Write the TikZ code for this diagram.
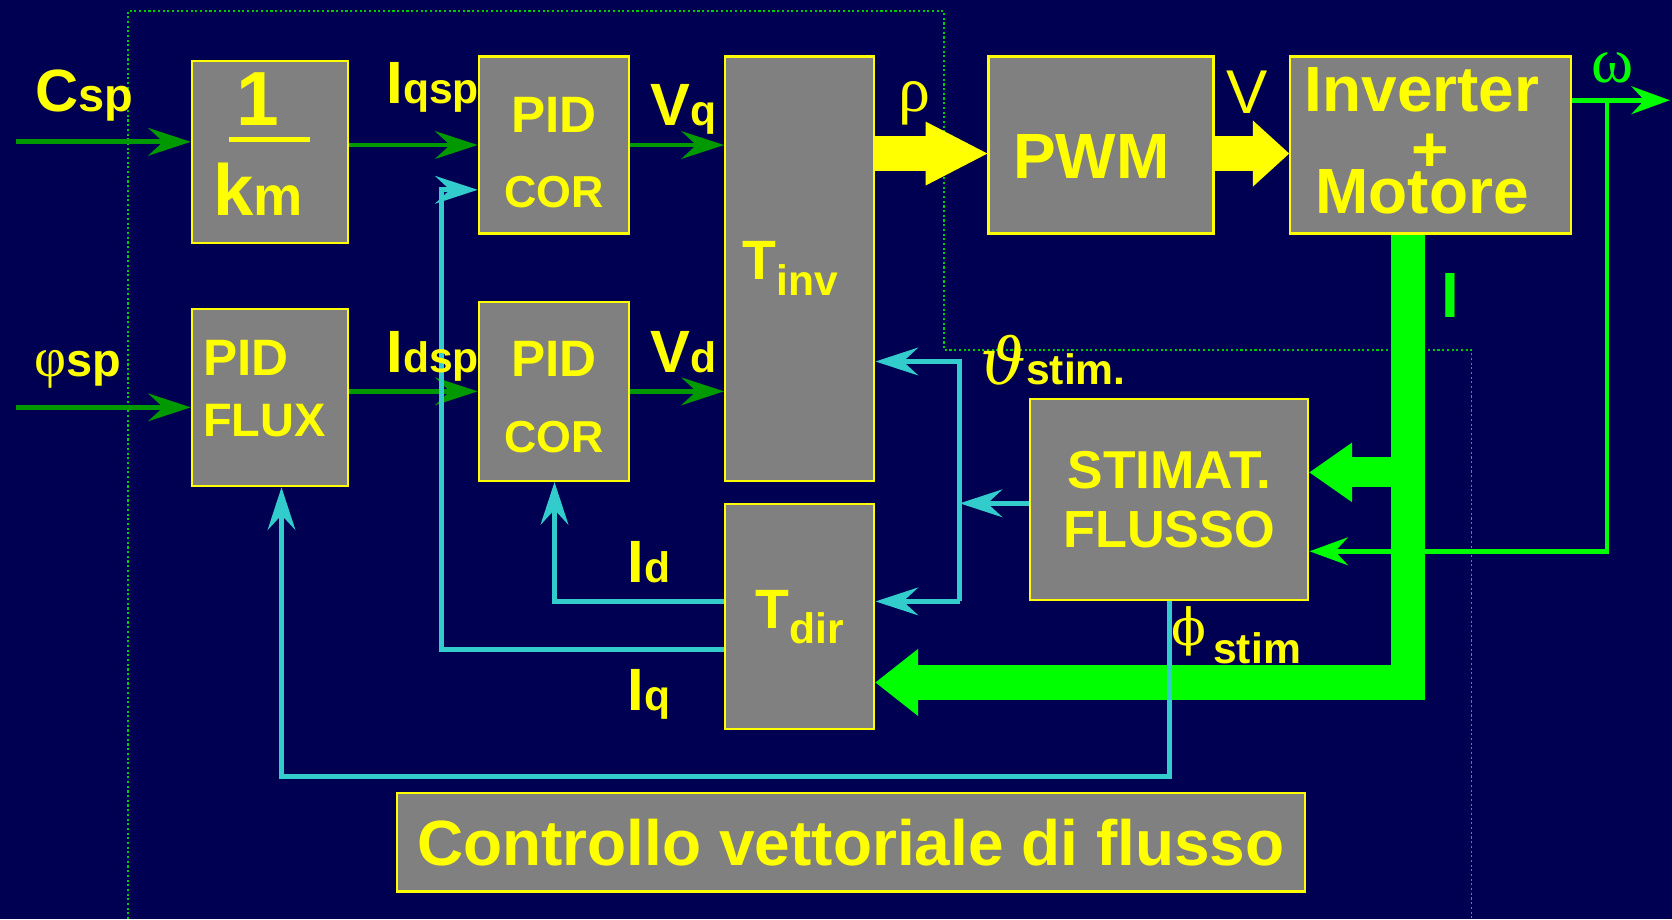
\documentclass[tikz,border=0pt]{standalone}
\usepackage{fontspec}
\setmainfont{Liberation Sans}
\newfontfamily\grk{Liberation Serif}
\newfontfamily\grkb{DejaVu Serif}
\usetikzlibrary{arrows.meta}
\definecolor{navy}{RGB}{0,0,82}
\definecolor{boxgray}{RGB}{128,128,128}
\definecolor{ylw}{RGB}{255,255,0}
\definecolor{dkgreen}{RGB}{0,153,0}
\definecolor{ltgreen}{RGB}{0,255,0}
\definecolor{cyn}{RGB}{51,204,204}
\definecolor{dotgreen}{RGB}{0,204,0}
\newcommand\fz[2]{\fontsize{#1}{#2}\selectfont}
\newcommand\bfz[2]{\bfseries\fontsize{#1}{#2}\selectfont}
\lineskiplimit=-100pt

\begin{document}
\begin{tikzpicture}[x=0.5pt,y=-0.5pt]
            \tikzset{
                blk/.style={draw=ylw, fill=boxgray, line width=1pt, text=ylw, inner sep=0pt, align=center},
                lbl/.style={text=ylw, inner sep=0pt, anchor=base west},
                garrow/.style={draw=dkgreen, line width=2.2pt, -{Stealth[length=20pt,width=13pt,inset=7pt]}},
                carrow/.style={draw=cyn, line width=2.3pt, -{Stealth[length=20pt,width=13pt,inset=7pt]}},
                warrow/.style={draw=ltgreen, line width=2.3pt, -{Stealth[length=18pt,width=13pt,inset=6pt]}},
                yarrow/.style={draw=ylw, line width=16pt},
                fatarrow/.style={draw=ltgreen, line width=16pt},
                border/.style={draw=dotgreen, line width=0.8pt, dash pattern=on 1pt off 1.2pt}
            }
            \path[use as bounding box, fill=navy] (0,0) rectangle (1568,862);
            \draw[border] (120,862) -- (120,10) -- (885,10) -- (885,328) -- (1380,328) -- (1380,862);

            \draw node[blk, minimum width=73pt, minimum height=85.5pt, font=\bfz{36}{7.5}] (km) at (253,142.5)
                {1\hspace*{11pt}\\\rule{38pt}{2.2pt}\hspace*{11pt}\\[27pt]\fz{34}{7.5}k\fz{26}{7.5}m\rule[-7.3pt]{0pt}{7.3pt}\hspace*{11pt}};
            \draw node[blk, minimum width=73pt, minimum height=83pt, text width=62.4pt, inner xsep=5.3pt, align=left, font=\bfz{24}{28.5}] (flux) at (253,373)
                {PID\\\fz{22}{28.5}FLUX\rule[-8.7pt]{0pt}{8.7pt}};
            \draw node[blk, minimum width=70.5pt, minimum height=83pt, font=\bfz{24}{35.5}] (corq) at (519.5,136)
                {\rule{0pt}{23.5pt}PID\\\fz{21}{35.5}COR};
            \draw node[blk, minimum width=70.5pt, minimum height=84pt, font=\bfz{24}{36}] (cord) at (519.5,367)
                {\rule{0pt}{22pt}PID\\\fz{21}{36}COR};
            \draw node[blk, minimum width=70pt, minimum height=199pt, font=\bfz{26}{26}] (tinv) at (750,252)
                {T\raisebox{-7.5pt}{\fz{20}{20}inv}\hspace*{9pt}};
            \draw node[blk, minimum width=70pt, minimum height=105.5pt, font=\bfz{26}{26}] (tdir) at (750,578.5)
                {T\raisebox{-7pt}{\fz{20}{20}dir}};
            \draw node[blk, minimum width=105.5pt, minimum height=83pt, font=\bfz{30}{30}] (pwm) at (1032.5,136)
                {\rule{0pt}{31pt}PWM\hspace*{9pt}};
            \draw node[blk, minimum width=131.5pt, minimum height=83pt, font=\bfz{30}{28}] (motor) at (1341.5,136)
                {Inverter\hspace*{8pt}\\+\hspace*{8pt}\\[-8pt]Motore\rule[-4pt]{0pt}{4pt}\hspace*{8pt}};
            \draw node[blk, minimum width=130.5pt, minimum height=94.5pt, font=\bfz{25}{27.5}] (stim) at (1096.5,468.5)
                {STIMAT.\\\fz{24.5}{27.5}FLUSSO};
            \draw node[blk, minimum width=426pt, minimum height=46pt, font=\bfz{30}{30}] (title) at (798,790)
                {Controllo vettoriale di flusso};

            \coordinate (cin) at (15,133);
            \coordinate (pin) at (15,382);
            \draw[garrow] (cin) -- (cin -| km.west);
            \draw[garrow] (pin) -- (pin -| flux.west);
            \foreach \x/\y in {km/corq, flux/cord}{
            \draw[garrow] (\y.west -| \x.east) -- (\y.west);
            }
            \foreach \x/\y in {corq/tinv, cord/tinv}{
            \draw[garrow] (\x.east) -- (\x.east -| \y.west);
            }
            \coordinate (ya) at (0,144);
            \draw[yarrow, -{Triangle[length=29pt,width=30pt,line width=0pt]}] (tinv.east |- ya) -- (pwm.west |- ya);
            \draw[yarrow, -{Triangle[length=17pt,width=31pt,line width=0pt]}] (pwm.east |- ya) -- (motor.west |- ya);

            \coordinate (wend) at (1566,94);
            \coordinate (wfb) at (1507,517);
            \draw[warrow] (motor.east |- wend) -- (wend);
            \draw[warrow] (wend -| wfb) -- (wfb) -- (wfb -| stim.east);

            \coordinate (gb) at (1320,640);
            \coordinate (gr) at (1320,443);
            \draw[fatarrow, -{Triangle[length=20pt,width=31.5pt,line width=0pt]}] (motor.south -| gb) -- (gb) -- (gb -| tdir.east);
            \draw[fatarrow, line width=14pt, -{Triangle[length=20pt,width=28pt,line width=0pt]}] (gr) -- (gr -| stim.east);

            \coordinate (tj) at (900,472);
            \coordinate (tt) at (900,339);
            \coordinate (tb) at (900,564);
            \draw[carrow] (stim.west |- tj) -- (tj);
            \draw[carrow] (tb) |- (tinv.east |- tt);
            \draw[carrow] (tb) -- (tb -| tdir.east);
            \coordinate (fs) at (264,728);
            \draw[carrow] (stim.south) |- (fs) -- (fs |- flux.south);
            \coordinate (idc) at (520,564);
            \draw[carrow] (tdir.west |- idc) -- (idc) -- (idc |- cord.south);
            \coordinate (iqc) at (414,609);
            \coordinate (iqt) at (414,178);
            \draw[carrow] (tdir.west |- iqc) -- (iqc) -- (iqt) -- (iqt -| corq.west);

            \draw node[lbl] (csp) at (33,105) {\bfz{28}{28}C\fz{22}{22}sp};
            \draw node[lbl] (phsp) at (32,353) {{\grk\fz{26}{26}φ}\bfz{22}{22}sp};
            \draw node[lbl] (iqsp) at (362,97) {\bfz{28}{28}I\fz{20}{20}qsp};
            \draw node[lbl] (idsp) at (362,349) {\bfz{28}{28}I\fz{20}{20}dsp};
            \draw node[lbl] (vq) at (610,118) {\bfz{28}{28}V\fz{20}{20}q};
            \draw node[lbl] (vd) at (610,349) {\bfz{28}{28}V\fz{20}{20}d};
            \draw node[lbl] (rho) at (842,105) {\grk\fz{30}{30}ρ};
            \draw node[lbl] (vlab) at (1150,106) {\fz{29}{29}V};
            \draw node[lbl, text=ltgreen] (om) at (1492,77) {\grk\fz{30}{30}ω};
            \draw node[lbl, text=ltgreen] (icur) at (1351,298) {\bfz{30}{30}I};
            \draw node[lbl] (thst) at (919,361) {{\grkb\itshape\fz{30}{30}ϑ}\bfz{20}{20}stim.};
            \draw node[lbl] (phst) at (1098,605) {{\grkb\fz{24}{24}ϕ}\raisebox{-8.5pt}{\bfz{20}{20}\,stim}};
            \draw node[lbl] (lid) at (588,546) {\bfz{28}{28}I\fz{20}{20}d};
            \draw node[lbl] (liq) at (588,666) {\bfz{28}{28}I\fz{20}{20}q};
        \end{tikzpicture}
\end{document}
